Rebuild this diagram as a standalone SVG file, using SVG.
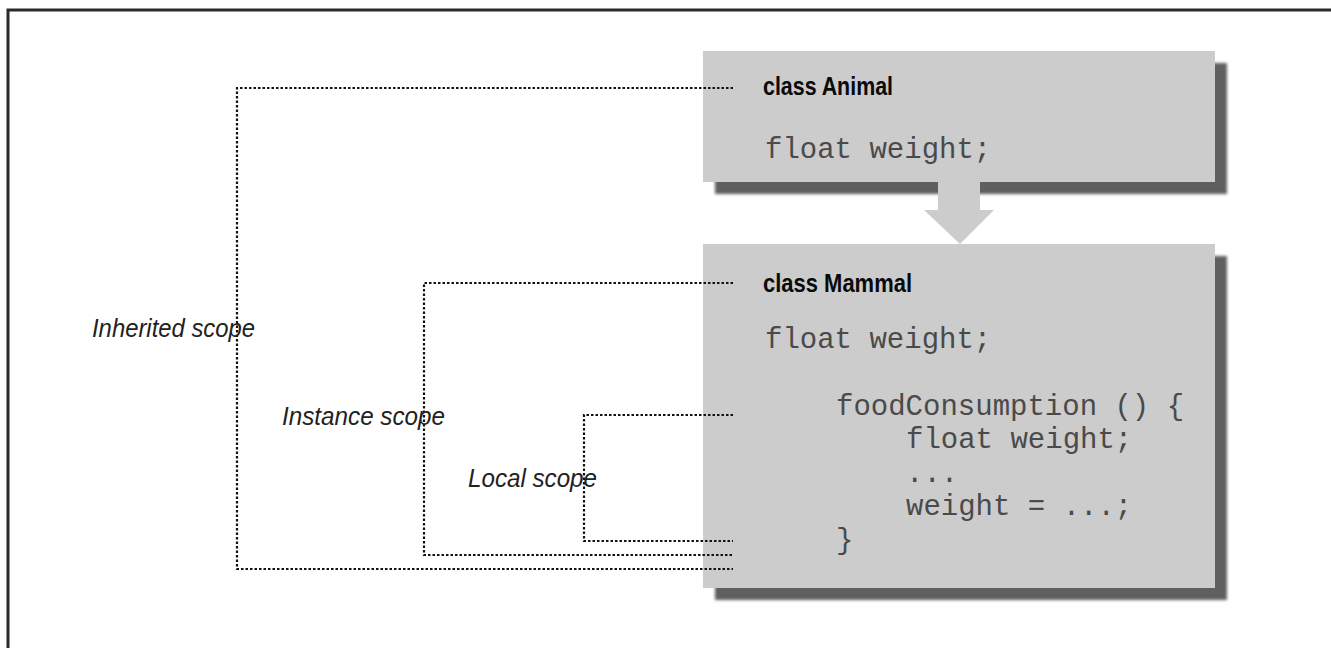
<svg xmlns="http://www.w3.org/2000/svg" width="1331" height="648" viewBox="0 0 1331 648">
<defs>
<style>
.box{fill:#cccccc}
.shadow{fill:#5e5e5e;filter:url(#blur)}
.title{font-family:"Liberation Sans Narrow","Liberation Sans",sans-serif;font-weight:bold;font-size:26px;fill:#0a0a0a}
.code{font-family:"Liberation Mono","Courier New",monospace;font-size:29px;fill:#4a4a4a}
.lbl{font-family:"Liberation Sans",Arial,sans-serif;font-style:italic;font-size:26px;fill:#222}
.dot{fill:none;stroke:#111;stroke-width:2.2;stroke-dasharray:2.5 2}
</style>
<filter id="blur" x="-5%" y="-5%" width="110%" height="110%"><feGaussianBlur stdDeviation="1.6"/></filter>
</defs>
<rect x="8" y="10" width="1400" height="700" fill="#fff" stroke="#2a2a2a" stroke-width="3"/>
<g id="animal">
<rect class="shadow" x="715" y="63" width="512" height="131"/>
<rect class="box" x="703" y="51" width="512" height="131"/>
<text class="title" x="763" y="95" textLength="130" lengthAdjust="spacingAndGlyphs">class Animal</text>
<text class="code" x="765" y="158">float weight;</text>
</g>
<g id="mammal">
<rect class="shadow" x="715" y="256" width="512" height="344"/>
<rect class="box" x="703" y="244" width="512" height="344"/>
<text class="title" x="763" y="292" textLength="149" lengthAdjust="spacingAndGlyphs">class Mammal</text>
<text class="code" x="765" y="348">float weight;</text>
<text class="code" x="836" y="415">foodConsumption () {</text>
<text class="code" x="906" y="448">float weight;</text>
<text class="code" x="906" y="482">...</text>
<text class="code" x="906" y="515">weight = ...;</text>
<text class="code" x="836" y="549">}</text>
</g>
<g id="inherit-arrow">
<polygon class="box" points="938,180 980,180 980,210 994,210 960,244 924,210 938,210"/>
</g>
<g id="connectors">
<polyline class="dot" points="733,88 237,88 237,569 733,569"/>
<polyline class="dot" points="733,283 424,283 424,555 733,555"/>
<polyline class="dot" points="733,415 584,415 584,541 733,541"/>
</g>
<g id="labels">
<text class="lbl" x="92" y="337" textLength="163" lengthAdjust="spacingAndGlyphs">Inherited scope</text>
<text class="lbl" x="282" y="425" textLength="163" lengthAdjust="spacingAndGlyphs">Instance scope</text>
<text class="lbl" x="468" y="487" textLength="129" lengthAdjust="spacingAndGlyphs">Local scope</text>
</g>
</svg>
